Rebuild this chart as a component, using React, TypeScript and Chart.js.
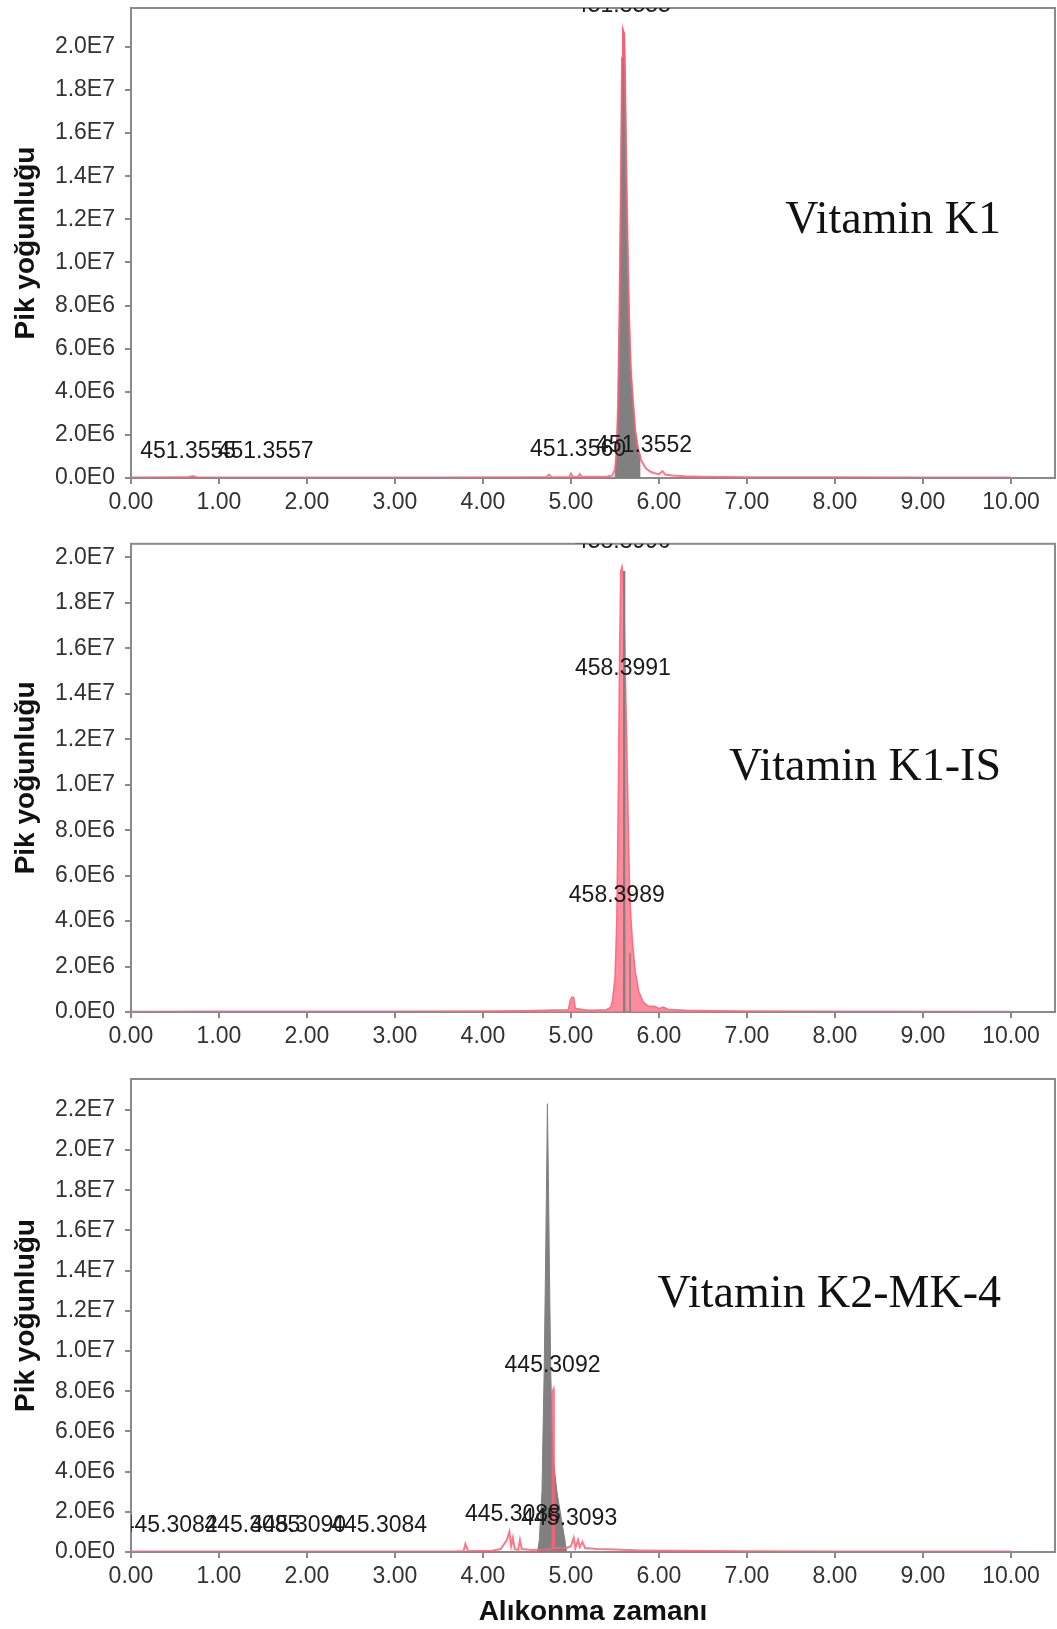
import React, { useEffect, useRef } from "react";
import { Chart, registerables } from "chart.js";

Chart.register(...registerables);

const FONT = "'Liberation Sans', Arial, Helvetica, sans-serif";
const SERIF = "'Liberation Serif', 'Times New Roman', serif";

// ---------- shared ticks ----------
const xTickValues = [0, 1, 2, 3, 4, 5, 6, 7, 8, 9, 10];
const yTicksK1 = [0, 2e6, 4e6, 6e6, 8e6, 1e7, 1.2e7, 1.4e7, 1.6e7, 1.8e7, 2e7];
const yTicksK1IS = [0, 2e6, 4e6, 6e6, 8e6, 1e7, 1.2e7, 1.4e7, 1.6e7, 1.8e7, 2e7];
const yTicksMK4 = [0, 2e6, 4e6, 6e6, 8e6, 1e7, 1.2e7, 1.4e7, 1.6e7, 1.8e7, 2e7, 2.2e7];

// ---------- Vitamin K1 ----------
const k1TraceTime = [
  0.0, 0.5, 0.65, 0.7, 0.75, 1.5, 2.5, 3.5, 4.5, 4.72, 4.75, 4.78, 4.98, 5.0, 5.02, 5.08, 5.1, 5.12, 5.4,
  5.47, 5.5, 5.52, 5.535, 5.55, 5.565, 5.58, 5.59, 5.605, 5.615, 5.63, 5.645, 5.66, 5.68, 5.7, 5.73, 5.76,
  5.8, 5.85, 5.9, 5.95, 6.0, 6.04, 6.07, 6.15, 6.3, 6.5, 7.0, 8.0, 9.0, 10.0,
];
const k1TraceIntensity = [
  2e4, 3e4, 4e4, 9e4, 4e4, 2.5e4, 2e4, 2.5e4, 3e4, 4e4, 1.6e5, 4e4, 5e4, 2e5, 5e4, 6e4, 1.8e5, 6e4, 6e4,
  1.2e5, 4e5, 1.3e6, 3.5e6, 7.5e6, 1.3e7, 1.95e7, 2.08e7, 2.06e7, 1.85e7, 1.4e7, 1.05e7, 7.5e6, 5e6, 3.8e6, 2.2e6, 1.4e6,
  8e5, 4.5e5, 3e5, 2.2e5, 1.8e5, 3.2e5, 1.6e5, 1.2e5, 8e4, 6e4, 4e4, 3e4, 2.5e4, 2e4,
];
const k1AreaTime = [
  5.5, 5.52, 5.535, 5.55, 5.565, 5.58, 5.59, 5.605, 5.615, 5.63, 5.645, 5.66, 5.68, 5.7, 5.73, 5.76, 5.78, 5.78,
];
const k1AreaIntensity = [
  0, 1.3e6, 3.5e6, 7.5e6, 1.3e7, 1.95e7, 2.08e7, 2.06e7, 1.85e7, 1.4e7, 1.05e7, 7.5e6, 5e6, 3.8e6, 2.2e6, 1.4e6, 1.1e6, 0,
];
const k1LabelTime = [0.65, 1.53, 5.08, 5.83, 5.59];
const k1LabelIntensity = [1.2e6, 1.2e6, 1.3e6, 1.5e6, 2.19e7];
const k1LabelText = ["451.3555", "451.3557", "451.3560", "451.3552", "451.3555"];

// ---------- Vitamin K1-IS ----------
const k1isTraceTime = [
  0.0, 1.0, 3.0, 4.0, 4.5, 4.8, 4.97, 4.99, 5.01, 5.03, 5.05, 5.2, 5.4, 5.45, 5.47, 5.5, 5.52, 5.53, 5.54,
  5.55, 5.565, 5.58, 5.595, 5.61, 5.62, 5.635, 5.65, 5.665, 5.68, 5.7, 5.73, 5.77, 5.82, 5.88, 5.95, 6.0,
  6.05, 6.1, 6.3, 6.6, 7.0, 8.0, 10.0,
];
const k1isTraceIntensity = [
  2e4, 3e4, 3e4, 4e4, 6e4, 9e4, 1e5, 5e5, 6.5e5, 6.5e5, 1.5e5, 8e4, 1e5, 2e5, 5e5, 1.5e6, 4e6, 7e6, 1.05e7,
  1.5e7, 1.94e7, 1.96e7, 1.9e7, 1.65e7, 1.45e7, 1.15e7, 8.5e6, 5.5e6, 4.2e6, 3e6, 1.8e6, 9e5, 4.5e5, 2.5e5, 2.5e5, 1.6e5,
  2.2e5, 1.2e5, 8e4, 6e4, 4e4, 3e4, 2e4,
];
const k1isAreaTime = [5.592, 5.598, 5.604, 5.61, 5.665, 5.67, 5.675];
const k1isAreaIntensity = [0, 1.94e7, 1.94e7, 0, 0, 2.6e6, 0];
const k1isLabelTime = [5.59, 5.52, 5.59];
const k1isLabelIntensity = [1.51e7, 5.13e6, 2.07e7];
const k1isLabelText = ["458.3991", "458.3989", "458.3990"];

// ---------- Vitamin K2-MK-4 ----------
const mk4TraceTime = [
  0.0, 1.0, 2.0, 3.0, 3.7, 3.78, 3.8, 3.83, 4.1, 4.2, 4.24, 4.27, 4.3, 4.32, 4.34, 4.36, 4.4, 4.42, 4.44,
  4.55, 4.7, 4.785, 4.79, 4.8, 4.805, 4.81, 4.95, 5.0, 5.03, 5.05, 5.08, 5.1, 5.13, 5.16, 5.3, 5.5, 5.8,
  6.2, 7.0, 8.0, 10.0,
];
const mk4TraceIntensity = [
  2e4, 3e4, 2.5e4, 3e4, 4e4, 5e4, 4e5, 5e4, 6e4, 1.5e5, 4e5, 6e5, 1e6, 3e5, 7e5, 1.5e5, 1e5, 6e5, 1.5e5,
  1e5, 1.2e5, 1.5e5, 8e6, 8.1e6, 4e6, 2e5, 2e5, 3e5, 7e5, 2e5, 6e5, 2.5e5, 5e5, 2e5, 1.5e5, 1.2e5, 8e4,
  6e4, 4e4, 3e4, 2e4,
];
const mk4AreaTime = [
  4.62, 4.64, 4.655, 4.67, 4.68, 4.695, 4.71, 4.725, 4.732, 4.745, 4.755, 4.77, 4.785, 4.8, 4.82, 4.84,
  4.87, 4.9, 4.93, 4.95,
];
const mk4AreaIntensity = [
  0, 6e5, 1.8e6, 3e6, 5.5e6, 9e6, 1.4e7, 1.95e7, 2.23e7, 1.8e7, 1.4e7, 9e6, 6e6, 4.6e6, 3.8e6, 3e6,
  2.2e6, 1.4e6, 6e5, 0,
];
const mk4LabelTime = [0.44, 1.38, 1.9, 2.82, 4.34, 4.98, 4.79];
const mk4LabelIntensity = [1.3e6, 1.3e6, 1.3e6, 1.3e6, 1.84e6, 1.64e6, 9.25e6];
const mk4LabelText = ["445.3082", "445.3085", "445.3090", "445.3084", "445.3088", "445.3093", "445.3092"];

// ---------- styles ----------
const PINK_LINE = "rgba(255, 95, 115, 0.85)";
const PINK_FILL = "rgba(255, 120, 140, 0.85)";
const GREY_FILL = "#808080";
const AXIS = "#8a8a8a";

const toPoints = (xs: number[], ys: number[]) => xs.map((x, i) => ({ x, y: ys[i] }));
const toLabels = (xs: number[], ys: number[], t: string[]) => xs.map((x, i) => ({ x, y: ys[i], text: t[i] }));

const formatE = (v: number) => {
  if (v === 0) return "0.0E0";
  const e = Math.floor(Math.log10(Math.abs(v)) + 1e-9);
  const m = v / Math.pow(10, e);
  return m.toFixed(1) + "E" + e;
};

const decorPlugin = {
  id: "panelDecor",
  beforeDatasetsDraw(chart: any) {
    const { ctx, chartArea: a } = chart;
    ctx.save();
    ctx.strokeStyle = AXIS;
    ctx.lineWidth = 2;
    ctx.strokeRect(a.left, a.top, a.right - a.left, a.bottom - a.top);
    ctx.restore();
  },
  afterDatasetsDraw(chart: any, _args: any, opts: any) {
    const { ctx, chartArea: a, scales } = chart;
    ctx.save();
    ctx.beginPath();
    ctx.rect(a.left, a.top, a.right - a.left, a.bottom - a.top);
    ctx.clip();
    ctx.font = `23px ${FONT}`;
    ctx.fillStyle = "#1a1a1a";
    ctx.textAlign = "center";
    ctx.textBaseline = "middle";
    (opts.labels || []).forEach((l: any) => {
      ctx.fillText(l.text, scales.x.getPixelForValue(l.x), scales.y.getPixelForValue(l.y));
    });
    ctx.restore();
    ctx.save();
    ctx.font = `46px ${SERIF}`;
    ctx.fillStyle = "#111";
    ctx.textAlign = "right";
    ctx.textBaseline = "middle";
    ctx.fillText(opts.name, a.right - opts.nameInset, a.top + opts.nameFrac * (a.bottom - a.top));
    ctx.restore();
  },
};

type Spec = {
  top: number;
  height: number;
  padTop: number;
  xAxisHeight: number;
  yMax: number;
  yTicks: number[];
  datasets: any[];
  labels: { x: number; y: number; text: string }[];
  name: string;
  nameFrac: number;
  xTitle: boolean;
};

const specs: Spec[] = [
  {
    top: -20,
    height: 540,
    padTop: 28,
    xAxisHeight: 42,
    yMax: 2.18e7,
    yTicks: yTicksK1,
    datasets: [
      {
        data: toPoints(k1TraceTime, k1TraceIntensity),
        borderColor: PINK_LINE,
        borderWidth: 2,
        fill: false,
        order: 1,
      },
      {
        data: toPoints(k1AreaTime, k1AreaIntensity),
        borderColor: GREY_FILL,
        backgroundColor: GREY_FILL,
        borderWidth: 1,
        fill: "origin",
        order: 2,
      },
    ],
    labels: toLabels(k1LabelTime, k1LabelIntensity, k1LabelText),
    name: "Vitamin K1",
    nameFrac: 0.453,
    xTitle: false,
  },
  {
    top: 520,
    height: 540,
    padTop: 22,
    xAxisHeight: 48,
    yMax: 2.06e7,
    yTicks: yTicksK1IS,
    datasets: [
      {
        data: toPoints(k1isAreaTime, k1isAreaIntensity),
        borderColor: GREY_FILL,
        backgroundColor: GREY_FILL,
        borderWidth: 1,
        fill: "origin",
        order: 1,
      },
      {
        data: toPoints(k1isTraceTime, k1isTraceIntensity),
        borderColor: PINK_LINE,
        backgroundColor: PINK_FILL,
        borderWidth: 1.5,
        fill: "origin",
        order: 2,
      },
    ],
    labels: toLabels(k1isLabelTime, k1isLabelIntensity, k1isLabelText),
    name: "Vitamin K1-IS",
    nameFrac: 0.479,
    xTitle: false,
  },
  {
    top: 1040,
    height: 589,
    padTop: 39,
    xAxisHeight: 77,
    yMax: 2.353e7,
    yTicks: yTicksMK4,
    datasets: [
      {
        data: toPoints(mk4TraceTime, mk4TraceIntensity),
        borderColor: PINK_LINE,
        borderWidth: 2,
        fill: false,
        order: 1,
      },
      {
        data: toPoints(mk4AreaTime, mk4AreaIntensity),
        borderColor: GREY_FILL,
        backgroundColor: GREY_FILL,
        borderWidth: 1,
        fill: "origin",
        order: 2,
      },
    ],
    labels: toLabels(mk4LabelTime, mk4LabelIntensity, mk4LabelText),
    name: "Vitamin K2-MK-4",
    nameFrac: 0.457,
    xTitle: true,
  },
];

function buildConfig(spec: Spec): any {
  return {
    type: "line",
    data: {
      datasets: spec.datasets.map((d) => ({
        pointRadius: 0,
        pointHoverRadius: 0,
        tension: 0,
        ...d,
      })),
    },
    plugins: [decorPlugin],
    options: {
      animation: false,
      responsive: false,
      maintainAspectRatio: false,
      events: [],
      layout: { padding: { top: spec.padTop, right: 2, left: 0, bottom: 0 } },
      plugins: {
        legend: { display: false },
        tooltip: { enabled: false },
        panelDecor: {
          labels: spec.labels,
          name: spec.name,
          nameFrac: spec.nameFrac,
          nameInset: 54,
        },
      },
      scales: {
        x: {
          type: "linear",
          min: 0,
          max: 10.5,
          afterBuildTicks: (s: any) => {
            s.ticks = xTickValues.map((v) => ({ value: v }));
          },
          afterFit: (s: any) => {
            s.height = spec.xAxisHeight;
          },
          ticks: {
            callback: (v: any) => Number(v).toFixed(2),
            color: "#333",
            font: { family: FONT, size: 23 },
            padding: 5,
            autoSkip: false,
            maxRotation: 0,
          },
          grid: { drawOnChartArea: false, drawTicks: true, tickLength: 6, color: AXIS, lineWidth: 2 },
          border: { display: false },
          title: {
            display: spec.xTitle,
            text: "Alıkonma zamanı",
            color: "#111",
            font: { family: FONT, size: 28, weight: "bold" },
            padding: { top: 0, bottom: 0 },
          },
        },
        y: {
          type: "linear",
          min: 0,
          max: spec.yMax,
          afterBuildTicks: (s: any) => {
            s.ticks = spec.yTicks.map((v) => ({ value: v }));
          },
          afterFit: (s: any) => {
            s.width = 131;
          },
          ticks: {
            callback: (v: any) => formatE(Number(v)),
            color: "#333",
            font: { family: FONT, size: 23 },
            padding: 10,
            autoSkip: false,
          },
          grid: { drawOnChartArea: false, drawTicks: true, tickLength: 6, color: AXIS, lineWidth: 2 },
          border: { display: false },
          title: {
            display: true,
            text: "Pik yoğunluğu",
            color: "#111",
            font: { family: FONT, size: 28, weight: "bold" },
            padding: { top: 9, bottom: 0 },
          },
        },
      },
    },
  };
}

function Panel({ spec }: { spec: Spec }) {
  const ref = useRef<HTMLCanvasElement | null>(null);
  useEffect(() => {
    if (!ref.current) return;
    const chart = new Chart(ref.current, buildConfig(spec));
    return () => chart.destroy();
  }, [spec]);
  return (
    <canvas
      ref={ref}
      width={1057}
      height={spec.height}
      style={{ position: "absolute", left: 0, top: spec.top, width: 1057, height: spec.height }}
    />
  );
}

export default function App() {
  return (
    <div style={{ position: "absolute", left: 0, top: 0, width: 1057, height: 1629, background: "#fff", overflow: "hidden" }}>
      {specs.map((s, i) => (
        <Panel key={i} spec={s} />
      ))}
    </div>
  );
}
